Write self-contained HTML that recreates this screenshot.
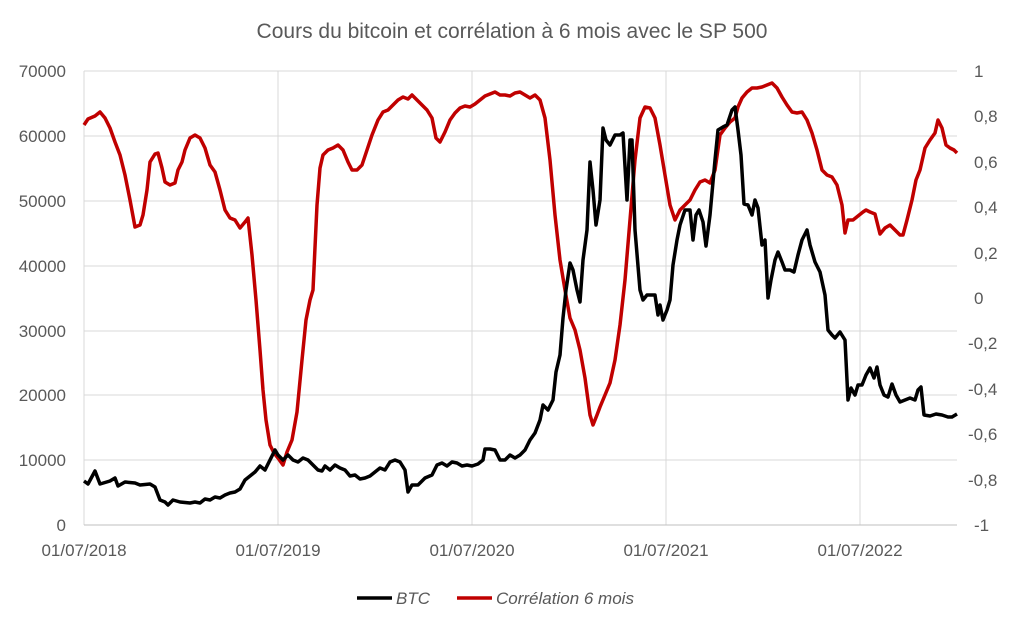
<!DOCTYPE html>
<html><head><meta charset="utf-8"><style>
body{margin:0;background:#fff;}
svg text{font-family:"Liberation Sans",sans-serif;fill:#595959;}
</style></head><body>
<svg width="1024" height="618" viewBox="0 0 1024 618" xmlns="http://www.w3.org/2000/svg">
<rect width="1024" height="618" fill="#fff"/>
<text x="512" y="38" text-anchor="middle" font-size="21">Cours du bitcoin et corrélation à 6 mois avec le SP 500</text>
<g stroke="#d9d9d9" stroke-width="1">
<line x1="84" y1="71" x2="957" y2="71"/><line x1="84" y1="136" x2="957" y2="136"/><line x1="84" y1="201" x2="957" y2="201"/><line x1="84" y1="266" x2="957" y2="266"/><line x1="84" y1="331" x2="957" y2="331"/><line x1="84" y1="395" x2="957" y2="395"/><line x1="84" y1="460" x2="957" y2="460"/>
<line x1="84" y1="71" x2="84" y2="525"/><line x1="278" y1="71" x2="278" y2="525"/><line x1="472" y1="71" x2="472" y2="525"/><line x1="666" y1="71" x2="666" y2="525"/><line x1="860" y1="71" x2="860" y2="525"/>
</g>
<line x1="84" y1="525" x2="957" y2="525" stroke="#bfbfbf"/>
<g font-size="17" text-anchor="end">
<text x="66" y="77">70000</text><text x="66" y="142">60000</text><text x="66" y="207">50000</text><text x="66" y="272">40000</text><text x="66" y="337">30000</text><text x="66" y="401">20000</text><text x="66" y="466">10000</text><text x="66" y="531">0</text>
</g>
<g font-size="17" text-anchor="start">
<text x="974" y="77">1</text><text x="974" y="122">0,8</text><text x="974" y="168">0,6</text><text x="974" y="213">0,4</text><text x="974" y="259">0,2</text><text x="974" y="304">0</text><text x="968" y="349">-0,2</text><text x="968" y="395">-0,4</text><text x="968" y="440">-0,6</text><text x="968" y="486">-0,8</text><text x="974" y="531">-1</text>
</g>
<g font-size="17" text-anchor="middle">
<text x="84" y="556">01/07/2018</text><text x="278" y="556">01/07/2019</text><text x="472" y="556">01/07/2020</text><text x="666" y="556">01/07/2021</text><text x="860" y="556">01/07/2022</text>
</g>
<polyline fill="none" stroke="#c00000" stroke-width="3.5" stroke-linejoin="round" points="84,125 88,119 95,116 100,112 105,118 110,128 115,142 120,155 125,175 130,200 135,227 140,225 143,215 147,190 150,162 155,154 158,153 162,168 165,182 170,185 175,183 178,170 182,162 185,150 190,138 195,135 200,138 205,148 210,165 215,172 220,190 225,210 230,218 235,220 240,228 245,222 248,218 252,255 256,300 260,350 263,390 266,420 270,445 274,453 278,458 283,465 287,452 292,440 297,412 302,360 306,320 310,300 313,290 317,205 320,168 323,155 328,150 333,148 338,145 343,150 348,162 352,170 357,170 362,165 367,150 372,135 378,120 383,112 388,110 393,105 398,100 403,97 408,99 412,95 417,100 422,105 427,110 432,118 436,138 440,142 445,132 450,120 455,113 460,108 465,106 470,107 475,104 480,100 485,96 490,94 495,92 500,95 505,95 510,96 515,93 520,92 525,95 530,98 535,95 540,100 545,118 550,160 555,215 560,260 565,290 570,318 575,330 580,350 585,378 590,415 593,425 597,415 600,407 605,395 610,383 615,360 620,325 625,280 630,220 635,160 640,118 645,107 650,108 655,118 660,145 665,175 670,205 675,220 680,210 685,205 690,200 695,190 700,182 705,180 710,183 715,170 720,135 725,128 730,122 735,118 738,107 742,98 747,92 752,88 757,88 762,87 767,85 772,83 777,88 782,97 787,105 792,112 797,113 802,112 807,120 812,133 817,150 822,170 827,175 832,177 837,185 842,205 845,233 848,220 853,220 858,216 863,212 866,210 870,212 875,214 880,234 885,228 890,225 895,230 900,235 903,235 907,220 912,200 916,180 920,170 925,148 930,140 935,133 938,120 942,128 946,145 950,148 954,150 957,153"/>
<polyline fill="none" stroke="#000" stroke-width="3.5" stroke-linejoin="round" points="84,481 88,484 95,471 100,484 110,481 115,478 118,486 125,482 135,483 140,485 150,484 155,487 160,500 165,502 168,505 173,500 180,502 190,503 195,502 200,503 205,499 210,500 215,497 220,498 225,495 230,493 235,492 240,489 245,480 250,476 255,472 260,466 265,470 270,460 275,450 278,455 283,460 288,455 293,460 298,462 303,458 308,460 313,465 318,470 322,471 325,466 330,470 335,465 340,468 345,470 350,476 355,475 360,479 365,478 370,476 375,472 380,468 385,470 390,462 395,460 400,462 405,470 408,492 412,485 418,485 425,478 432,475 437,465 442,463 447,466 452,462 457,463 462,466 467,465 472,466 478,464 483,460 485,449 490,449 495,450 500,460 505,460 510,455 515,458 520,455 525,450 530,440 535,433 540,420 543,405 548,410 553,400 556,372 560,355 563,318 566,290 570,263 573,270 577,290 580,302 583,260 587,230 590,162 593,190 596,225 600,200 603,128 606,140 610,145 615,135 620,135 623,133 627,200 630,140 632,140 635,230 640,290 643,300 647,295 652,295 655,295 658,315 660,305 663,320 667,310 670,300 673,265 677,240 680,225 685,210 690,210 693,240 696,215 699,210 703,222 706,246 710,215 715,160 718,130 723,127 727,125 732,110 735,107 738,130 741,155 744,204 748,205 752,215 755,200 758,208 762,245 765,240 768,298 771,280 775,260 778,252 782,262 785,270 790,270 794,272 798,255 802,240 807,230 810,245 815,262 820,272 825,295 828,330 832,335 835,338 840,332 845,340 848,400 851,388 855,395 858,385 862,385 866,375 870,368 874,378 877,367 880,385 884,395 888,397 892,384 896,395 900,402 905,400 910,398 915,400 918,390 921,387 924,415 930,416 936,414 942,415 948,417 952,417 957,414"/>
<line x1="357" y1="598" x2="392" y2="598" stroke="#000" stroke-width="3.5"/>
<text x="396" y="604" font-size="17" font-style="italic">BTC</text>
<line x1="457" y1="598" x2="492" y2="598" stroke="#c00000" stroke-width="3.5"/>
<text x="496" y="604" font-size="17" font-style="italic">Corrélation 6 mois</text>
</svg>
</body></html>
